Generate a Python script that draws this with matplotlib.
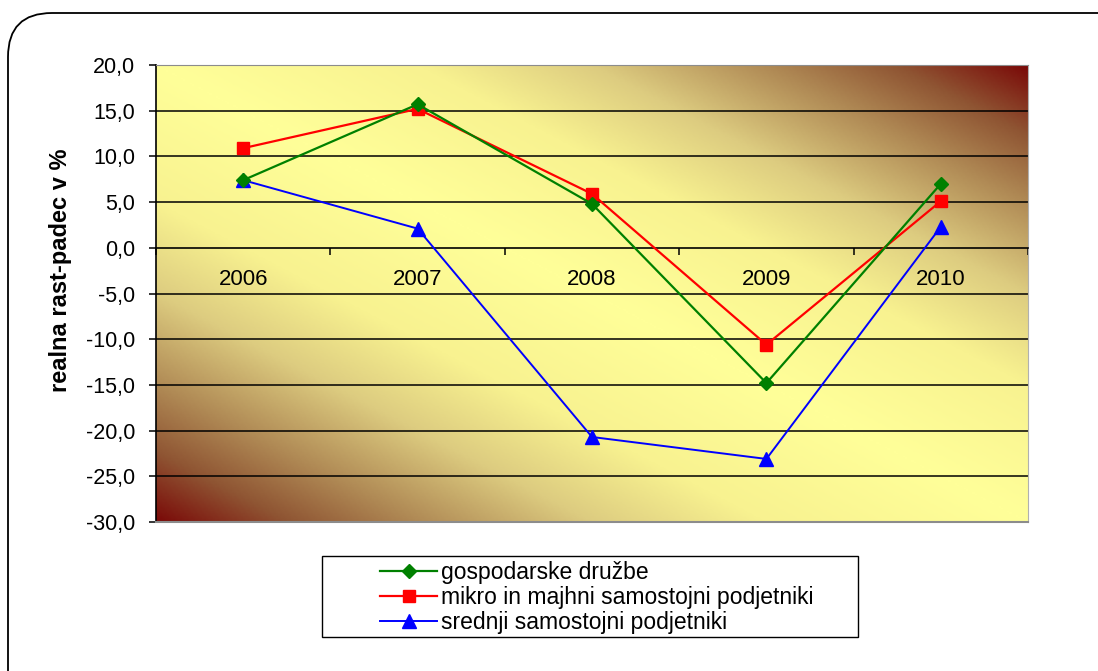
import numpy as np
import matplotlib.pyplot as plt
from matplotlib.colors import LinearSegmentedColormap
from matplotlib.patches import FancyBboxPatch, Rectangle

# data
years = ["2006", "2007", "2008", "2009", "2010"]
gospodarske = [7.4, 15.7, 4.8, -14.8, 7.0]
mikro_majhni = [10.9, 15.2, 5.9, -10.6, 5.1]
srednji = [7.4, 2.1, -20.7, -23.1, 2.3]
y_ticks = [-30, -25, -20, -15, -10, -5, 0, 5, 10, 15, 20]

plt.rcParams['font.family'] = ['Liberation Sans', 'DejaVu Sans']

W, H = 1098, 671
fig = plt.figure(figsize=(W / 100, H / 100), dpi=100)

# rounded outer frame (runs off the right and bottom edge)
frame = FancyBboxPatch((8 / W, -0.2), 1.2, 1.2 - 13 / H,
                       boxstyle="round,pad=0,rounding_size=0.04",
                       transform=fig.transFigure, fc="none", ec="black",
                       lw=1.3, mutation_aspect=W / H, zorder=-5)
fig.patches.append(frame)

ax = fig.add_axes([156 / W, 1 - 522 / H, 872 / W, 457 / H])
x = np.arange(len(years))
ax.set_xlim(-0.5, 4.5)
ax.set_ylim(-30, 20)

# gradient background: dark red in bottom-left and top-right corners
u, v = np.meshgrid(np.linspace(0, 1, 400), np.linspace(0, 1, 300))
t = np.abs(u + v - 1)
cmap = LinearSegmentedColormap.from_list(
    "bg", [(0, "#FFFF99"), (0.3, "#F8F290"), (0.5, "#DDCC80"),
           (0.7, "#B08A55"), (0.85, "#8F5533"), (1.0, "#7A0A08")])
ax.imshow(t, cmap=cmap, extent=(-0.5, 4.5, -30, 20), origin="lower",
          aspect="auto", zorder=0, vmin=0, vmax=1)

for yv in y_ticks:
    if yv not in (-30, 20, 0):
        ax.axhline(yv, color="black", lw=1.1, zorder=1)

ax.plot(x, gospodarske, color="#008000", marker="D", ms=7, lw=1.6,
        label="gospodarske družbe", zorder=4)
ax.plot(x, mikro_majhni, color="#FF0000", marker="s", ms=8.5, lw=1.6,
        label="mikro in majhni samostojni podjetniki", zorder=3)
ax.plot(x, srednji, color="#0000FF", marker="^", ms=9.5, lw=1.4,
        label="srednji samostojni podjetniki", zorder=3)

# axes styling
ax.spines['bottom'].set_position(('data', 0))
ax.spines['bottom'].set_color("black")
ax.spines['bottom'].set_linewidth(1.2)
ax.spines['left'].set_color("black")
ax.spines['left'].set_linewidth(1.2)
ax.spines['top'].set_color("#8c8c8c")
ax.spines['right'].set_color("#b0b0b0")
ax.plot([-0.5, 4.5], [-30, -30], color="#8c8c8c", lw=1.5, clip_on=False, zorder=5)

ax.set_yticks(y_ticks)
ax.set_yticklabels([f"{v:.1f}".replace(".", ",") for v in y_ticks], fontsize=15.5)
ax.tick_params(axis="y", direction="out", length=5, width=1.1, pad=10)

ax.set_xticks(np.arange(-0.5, 5, 1.0))
ax.set_xticklabels([])
ax.tick_params(axis="x", which="major", direction="out", length=5, width=1.1)
ax.set_xticks(x, years, minor=True)
ax.tick_params(axis="x", which="minor", length=0, pad=15, labelsize=16)

ax.set_ylabel("realna rast-padec v %", fontsize=17, fontweight="bold")
ax.yaxis.set_label_coords((72 - 156) / 872, 0.55)

# legend box drawn separately, entries without frame
fig.patches.append(Rectangle((322 / W, 1 - 637 / H), 536 / W, 81 / H,
                             transform=fig.transFigure, fc="white", ec="black",
                             lw=1.0, zorder=2))
leg = fig.legend(loc="upper left", bbox_to_anchor=(380 / W, 1 - 561 / H),
                 fontsize=16.5, frameon=False, handlelength=2.5,
                 handletextpad=0.15, labelspacing=0.08, borderaxespad=0,
                 borderpad=0)
leg.set_zorder(3)

fig.savefig("out.png", dpi=100)
